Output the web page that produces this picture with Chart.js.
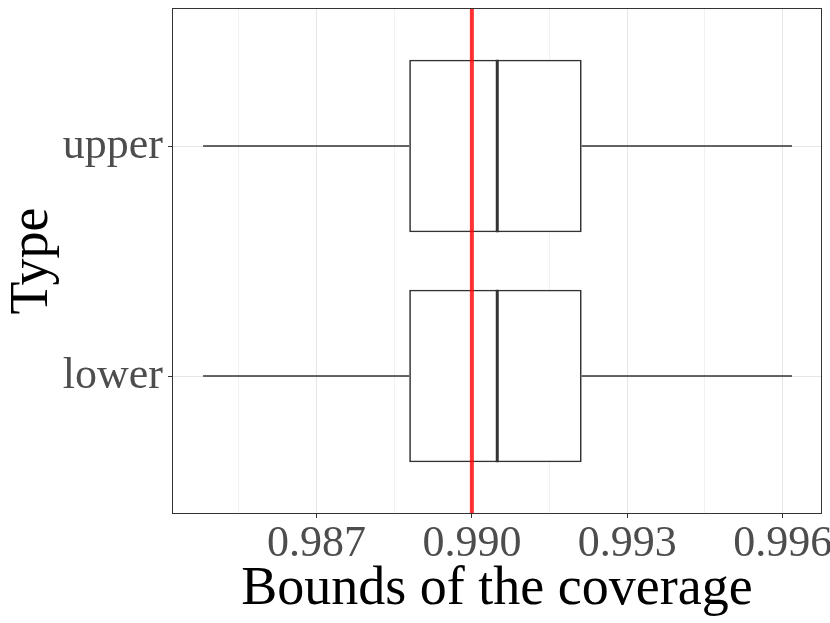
<!DOCTYPE html>
<html>
<head>
<meta charset="utf-8">
<script src="https://cdn.jsdelivr.net/npm/chart.js@4/dist/chart.umd.min.js"></script>
<style>
  html, body { margin: 0; padding: 0; background: #fff; }
  canvas { display: block; }
</style>
</head>
<body>
<canvas id="boxchart" width="830" height="623"></canvas>
<script>
// box plot of coverage bounds, one box per type
const types = ["lower", "upper"];
const typePos = [1, 2];
const whiskerLow = [0.98481, 0.98481];
const q1 = [0.98879, 0.98879];
const median = [0.99049, 0.99049];
const q3 = [0.99212, 0.99212];
const whiskerHigh = [0.99618, 0.99618];
const target = 0.990;

const majorTicks = [0.987, 0.990, 0.993, 0.996];
const minorTicks = [0.9855, 0.9885, 0.9915, 0.9945];

const serif = "'Liberation Serif', 'Times New Roman', serif";
const boxLine = "#333333";
const boxWidth = 0.75; // in category units, like geom_boxplot

function isMajor(v) {
    return majorTicks.some(m => Math.abs(m - v) < 1e-7);
}

const datasets = [];

// red reference line
datasets.push({
    type: "line",
    data: [{ x: target, y: 0.4 }, { x: target, y: 2.6 }],
    borderColor: "rgba(255,0,0,0.8)",
    borderWidth: 4,
    pointRadius: 0,
    order: 0
});

types.forEach((t, i) => {
    // whiskers
    datasets.push({
        type: "line",
        data: [{ x: whiskerLow[i], y: typePos[i] }, { x: q1[i], y: typePos[i] }],
        borderColor: boxLine, borderWidth: 1.5, pointRadius: 0, order: 1
    });
    datasets.push({
        type: "line",
        data: [{ x: q3[i], y: typePos[i] }, { x: whiskerHigh[i], y: typePos[i] }],
        borderColor: boxLine, borderWidth: 1.5, pointRadius: 0, order: 1
    });
    // median
    datasets.push({
        type: "line",
        data: [{ x: median[i], y: typePos[i] - boxWidth / 2 }, { x: median[i], y: typePos[i] + boxWidth / 2 }],
        borderColor: boxLine, borderWidth: 3, pointRadius: 0, order: 1
    });
});

// boxes
datasets.push({
    type: "bar",
    data: types.map((t, i) => ({ x: [q1[i], q3[i]], y: typePos[i] })),
    backgroundColor: "#ffffff",
    borderColor: boxLine,
    borderWidth: 1.7,
    borderSkipped: false,
    barPercentage: boxWidth,
    categoryPercentage: 1,
    order: 2
});

const panelBorder = {
    id: "panelBorder",
    afterDatasetsDraw(chart) {
        const a = chart.chartArea;
        const c = chart.ctx;
        c.save();
        c.strokeStyle = boxLine;
        c.lineWidth = 1;
        c.strokeRect(Math.round(a.left) + 0.5, Math.round(a.top) + 0.5,
            Math.round(a.right - a.left) - 1, Math.round(a.bottom - a.top) - 1);
        c.restore();
    }
};

new Chart("boxchart", {
    data: { datasets: datasets },
    plugins: [panelBorder],
    options: {
        responsive: false,
        animation: false,
        indexAxis: "y",
        layout: { padding: { top: 8, right: 8, left: 0, bottom: 0 } },
        plugins: { legend: { display: false }, tooltip: { enabled: false } },
        scales: {
            x: {
                type: "linear",
                position: "bottom",
                min: 0.98421,
                max: 0.99676,
                afterBuildTicks(scale) {
                    scale.ticks = majorTicks.concat(minorTicks).sort().map(v => ({ value: v }));
                },
                afterFit(scale) {
                    scale.height = 109;
                    scale.paddingLeft = 0;
                    scale.paddingRight = 0;
                },
                border: { display: false },
                grid: {
                    color: ctx => isMajor(ctx.tick.value) ? "#E6E6E6" : "#F1F1F1",
                    tickColor: ctx => isMajor(ctx.tick.value) ? boxLine : "rgba(0,0,0,0)",
                    tickLength: 4,
                    lineWidth: 1
                },
                ticks: {
                    autoSkip: false,
                    maxRotation: 0,
                    padding: 0,
                    color: "#4D4D4D",
                    font: { family: serif, size: 44 },
                    callback: v => isMajor(v) ? v.toFixed(3) : ""
                },
                title: {
                    display: true,
                    text: "Bounds of the coverage",
                    color: "#000000",
                    font: { family: serif, size: 54 },
                    padding: { top: 0, bottom: 1 }
                }
            },
            y: {
                type: "linear",
                position: "left",
                min: 0.4,
                max: 2.6,
                offset: false,
                afterBuildTicks(scale) {
                    scale.ticks = typePos.map(v => ({ value: v }));
                },
                afterFit(scale) {
                    scale.width = 172;
                    scale.paddingTop = 0;
                    scale.paddingBottom = 0;
                },
                border: { display: false },
                grid: {
                    offset: false,
                    color: "#E6E6E6",
                    tickColor: boxLine,
                    tickLength: 4,
                    lineWidth: 1
                },
                ticks: {
                    autoSkip: false,
                    padding: 5,
                    color: "#4D4D4D",
                    font: { family: serif, size: 44 },
                    callback: v => types[typePos.indexOf(v)] || ""
                },
                title: {
                    display: true,
                    text: "Type",
                    color: "#000000",
                    font: { family: serif, size: 54 },
                    padding: { top: 0, bottom: 0 }
                }
            }
        }
    }
});
</script>
</body>
</html>
